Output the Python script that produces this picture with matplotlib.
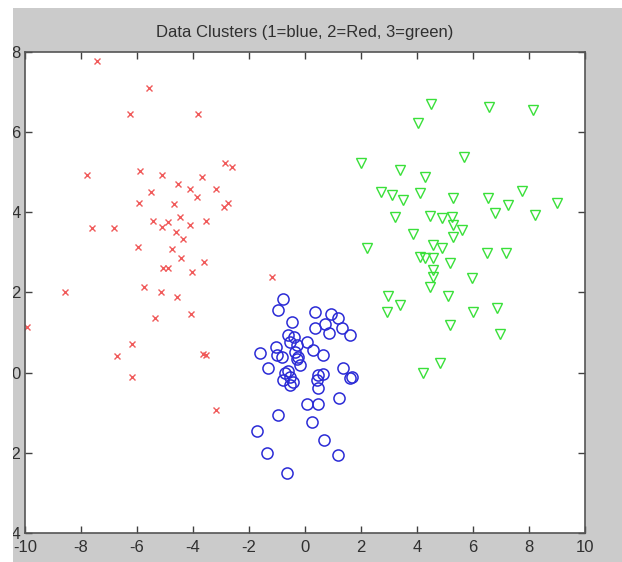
import matplotlib.pyplot as plt
from matplotlib.patches import Rectangle

plt.rcParams["font.family"] = ["Liberation Sans", "DejaVu Sans"]
plt.rcParams["axes.unicode_minus"] = False

# cluster 1 (blue)
blue_x = [-0.79, -0.96, 0.36, 0.93, 1.18, -0.46, 0.71, 0.36, 1.32, 0.86,
          1.61, -0.61, -0.54, 0.07, -0.29, -1.04, -1.61, -1.00, -0.36, 0.29,
          0.64, -0.25, -0.82, -0.18, -1.32, 1.36, 1.68, 1.61, -0.71, -0.54,
          -0.79, -0.43, 0.46, 0.64, 0.43, 0.46, -0.54, 1.21, 0.07, 0.46,
          -0.96, 0.25, -1.71, 0.68, -1.36, 1.18, -0.64, -0.40, -0.30, -0.60]
blue_y = [1.84, 1.57, 1.52, 1.47, 1.37, 1.27, 1.22, 1.12, 1.12, 0.99,
          0.94, 0.94, 0.77, 0.77, 0.69, 0.64, 0.49, 0.44, 0.52, 0.57,
          0.44, 0.40, 0.40, 0.19, 0.12, 0.12, -0.10, -0.13, -0.01, -0.10,
          -0.18, -0.23, -0.05, -0.03, -0.18, -0.38, -0.30, -0.63, -0.78, -0.78,
          -1.05, -1.23, -1.45, -1.68, -2.00, -2.05, -2.50, 0.90, 0.35, 0.05]

# cluster 2 (red)
red_x = [-7.43, -5.57, -6.25, -3.82, -2.86, -2.61, -7.79, -5.89, -5.11, -3.68,
         -4.54, -4.11, -3.18, -5.50, -3.86, -5.93, -4.68, -2.75, -2.89, -4.46,
         -5.43, -4.89, -5.11, -4.11, -3.54, -7.61, -6.82, -4.61, -4.36, -5.96,
         -4.75, -4.43, -3.61, -5.07, -4.89, -4.04, -1.18, -8.57, -5.75, -5.14,
         -4.57, -5.36, -4.07, -9.93, -6.18, -6.71, -3.64, -3.54, -6.18, -3.18]
red_y = [7.78, 7.10, 6.45, 6.45, 5.23, 5.13, 4.93, 5.03, 4.93, 4.88,
         4.71, 4.58, 4.58, 4.51, 4.38, 4.23, 4.21, 4.23, 4.13, 3.89,
         3.79, 3.76, 3.64, 3.69, 3.79, 3.61, 3.61, 3.51, 3.34, 3.14,
         3.09, 2.86, 2.76, 2.61, 2.61, 2.51, 2.39, 2.01, 2.14, 2.01,
         1.89, 1.37, 1.47, 1.14, 0.72, 0.42, 0.47, 0.44, -0.10, -0.93]

# cluster 3 (green)
green_x = [4.50, 4.04, 2.00, 3.39, 4.29, 2.71, 3.11, 3.50, 4.11, 5.29,
           3.21, 4.46, 4.89, 5.25, 5.29, 3.86, 5.68, 6.57, 8.14, 7.75,
           6.54, 7.25, 6.79, 8.21, 9.00, 5.61, 2.21, 4.57, 4.11, 4.29,
           4.57, 5.18, 5.29, 4.57, 4.57, 4.46, 5.11, 2.96, 3.39, 2.93,
           5.18, 4.82, 4.21, 6.50, 7.18, 5.96, 6.00, 6.86, 6.96, 4.90]
green_y = [6.70, 6.23, 5.23, 5.06, 4.88, 4.51, 4.43, 4.31, 4.48, 4.36,
           3.89, 3.91, 3.86, 3.89, 3.69, 3.46, 5.38, 6.63, 6.55, 4.53,
           4.36, 4.18, 3.98, 3.93, 4.23, 3.56, 3.11, 3.19, 2.89, 2.86,
           2.86, 2.74, 3.39, 2.56, 2.39, 2.14, 1.92, 1.92, 1.69, 1.52,
           1.19, 0.24, 0.00, 2.99, 2.99, 2.36, 1.52, 1.62, 0.97, 3.10]

x_ticks = [-10, -8, -6, -4, -2, 0, 2, 4, 6, 8, 10]
y_ticks = [-4, -2, 0, 2, 4, 6, 8]

fig = plt.figure(figsize=(6.22, 5.62), dpi=100, facecolor="#cbcbcb")
ax = fig.add_axes([0.0402, 0.0516, 0.9003, 0.8559])
ax.set_facecolor("white")

ax.plot(blue_x, blue_y, "o", markersize=8, markerfacecolor="none",
        markeredgecolor="#2b2bd6", markeredgewidth=1.1, linestyle="none")
ax.plot(red_x, red_y, "x", markersize=4.5, color="#f05a5a",
        markeredgewidth=1.0, linestyle="none")
ax.plot(green_x, green_y, "v", markersize=7.5, markerfacecolor="none",
        markeredgecolor="#3ae03a", markeredgewidth=1.0, linestyle="none")

ax.set_xlim(-10, 10)
ax.set_ylim(-4, 8)
ax.set_xticks(x_ticks)
ax.set_yticks(y_ticks)
ax.tick_params(direction="in", length=5, width=1, colors="#404040",
               top=True, right=True, labelsize=12, pad=5)
ax.tick_params(axis="x", labelcolor="#303030")
ax.tick_params(axis="y", labelcolor="#303030", pad=3)
for s in ax.spines.values():
    s.set_color("#555555")
    s.set_linewidth(1.2)

ax.set_title("Data Clusters (1=blue, 2=Red, 3=green)", fontsize=12,
             color="#303030", pad=11)

# white strips at left and top edge of the screenshot crop
fig.add_artist(Rectangle((0, 0), 13 / 622, 1, transform=fig.transFigure,
                         facecolor="white", edgecolor="none", zorder=10))
fig.add_artist(Rectangle((0, 1 - 8 / 562), 1, 8 / 562, transform=fig.transFigure,
                         facecolor="white", edgecolor="none", zorder=10))

fig.savefig("out.png", dpi=100, facecolor=fig.get_facecolor())
